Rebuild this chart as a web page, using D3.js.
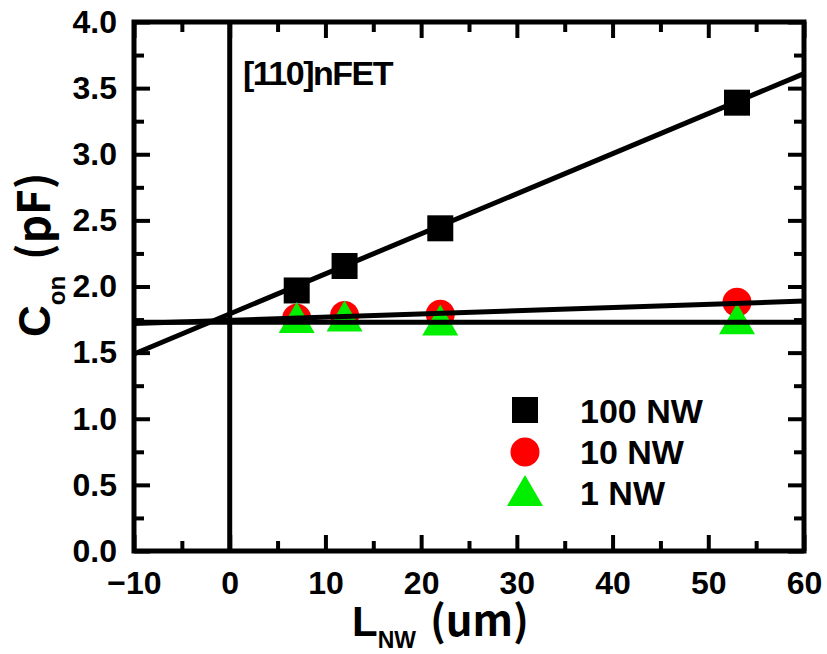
<!DOCTYPE html>
<html>
<head>
<meta charset="utf-8">
<script src="https://cdn.jsdelivr.net/npm/d3@7"></script>
<style>
  body { margin: 0; background: #fff; }
  svg { display: block; }
</style>
</head>
<body>
<svg id="viz" width="827" height="654"></svg>
<script>
var width = 827, height = 654

// measured points
var lengths = [7, 12, 22, 53]
var nw100 = [1.97, 2.155, 2.44, 3.39]
var nw10 = [1.76, 1.78, 1.79, 1.88]
var nw1 = [1.74, 1.75, 1.72, 1.73]

// fitted lines, end points at the axis limits
var fitX = [-10, 60]
var fit100 = [1.49, 3.61]
var fit10 = [1.72, 1.89]
var fit1 = [1.73, 1.73]

var xMajor = [-10, 0, 10, 20, 30, 40, 50, 60]
var xMinor = [-5, 5, 15, 25, 35, 45, 55]
var yMajor = [0, 0.5, 1, 1.5, 2, 2.5, 3, 3.5, 4]
var yMinor = [0.25, 0.75, 1.25, 1.75, 2.25, 2.75, 3.25, 3.75]

var legendLabels = ['100 NW', '10 NW', '1 NW']

var pLeft = 134, pRight = 804, pTop = 22, pBottom = 551

var x = d3.scaleLinear().domain([-10, 60]).range([pLeft, pRight])
var y = d3.scaleLinear().domain([0, 4]).range([pBottom, pTop])

var svg = d3.select('svg#viz')
var tickFont = '"Liberation Sans", Arial, sans-serif'

function drawAxis(axis, tx, ty, labels) {
  var g = svg.append('g').attr('transform', 'translate(' + tx + ',' + ty + ')').call(axis)
  g.select('.domain').remove()
  g.selectAll('.tick line').attr('stroke', '#000').attr('stroke-width', 4)
  if (!labels) g.selectAll('.tick text').remove()
  else g.selectAll('.tick text')
    .style('font-family', tickFont).style('font-size', '32px').style('font-weight', 'bold')
    .attr('fill', '#000')
  return g
}

// bottom
drawAxis(d3.axisBottom(x).tickValues(xMajor).tickSize(-16).tickPadding(20)
  .tickFormat(function(d) { return d < 0 ? '\u2212' + Math.abs(d) : d }), 0, pBottom, true)
drawAxis(d3.axisBottom(x).tickValues(xMinor).tickSize(-10), 0, pBottom, false)
// top
drawAxis(d3.axisTop(x).tickValues(xMajor).tickSize(-16), 0, pTop, false)
drawAxis(d3.axisTop(x).tickValues(xMinor).tickSize(-10), 0, pTop, false)
// left
drawAxis(d3.axisLeft(y).tickValues(yMajor).tickSize(-16).tickPadding(17)
  .tickFormat(d3.format('.1f')), pLeft, 0, true)
drawAxis(d3.axisLeft(y).tickValues(yMinor).tickSize(-10), pLeft, 0, false)
// right
drawAxis(d3.axisRight(y).tickValues(yMajor).tickSize(-16), pRight, 0, false)
drawAxis(d3.axisRight(y).tickValues(yMinor).tickSize(-10), pRight, 0, false)

// markers
function tri(s) {
  return 'M0,' + (-19 * s) + 'L' + (18 * s) + ',' + (12 * s) + 'L' + (-18 * s) + ',' + (12 * s) + 'Z'
}

var marks = svg.append('g')
marks.selectAll('rect.sq').data(lengths).enter().append('rect')
  .attr('class', 'sq')
  .attr('x', function(d) { return x(d) - 13 })
  .attr('y', function(d, i) { return y(nw100[i]) - 13 })
  .attr('width', 26).attr('height', 26).attr('fill', '#000')

marks.selectAll('circle').data(lengths).enter().append('circle')
  .attr('cx', function(d) { return x(d) })
  .attr('cy', function(d, i) { return y(nw10[i]) })
  .attr('r', 14.5).attr('fill', '#ff0000')

marks.selectAll('path.tri').data(lengths).enter().append('path')
  .attr('class', 'tri')
  .attr('d', tri(1))
  .attr('transform', function(d, i) { return 'translate(' + x(d) + ',' + y(nw1[i]) + ')' })
  .attr('fill', '#00ee00')

// lines
var line = d3.line().x(function(d) { return x(d[0]) }).y(function(d) { return y(d[1]) })
;[fit100, fit10, fit1].forEach(function(f) {
  svg.append('path').datum(fitX.map(function(v, i) { return [v, f[i]] }))
    .attr('d', line).attr('fill', 'none').attr('stroke', '#000').attr('stroke-width', 5)
})
svg.append('line')
  .attr('x1', x(0)).attr('x2', x(0)).attr('y1', y(0)).attr('y2', y(4))
  .attr('stroke', '#000').attr('stroke-width', 5)

// frame
svg.append('rect').attr('x', pLeft).attr('y', pTop)
  .attr('width', pRight - pLeft).attr('height', pBottom - pTop)
  .attr('fill', 'none').attr('stroke', '#000').attr('stroke-width', 5)

// annotation
svg.append('text').attr('x', 243).attr('y', 85)
  .style('font-family', tickFont).style('font-size', '34px').style('font-weight', 'bold')
  .style('letter-spacing', '-1.5px')
  .text('[110]nFET')

// legend
var lg = svg.append('g')
lg.append('rect').attr('x', 512).attr('y', 397).attr('width', 26).attr('height', 26).attr('fill', '#000')
lg.append('circle').attr('cx', 525).attr('cy', 452).attr('r', 14.5).attr('fill', '#ff0000')
lg.append('path').attr('d', tri(1)).attr('transform', 'translate(525,494)').attr('fill', '#00ee00')
lg.selectAll('text').data(legendLabels).enter().append('text')
  .attr('x', 580)
  .attr('y', function(d, i) { return [423, 464, 505][i] })
  .style('font-family', tickFont).style('font-size', '34px')
  .style('font-weight', 'bold')
  .text(function(d) { return d })

// axis titles
var titleFont = '"Liberation Sans", Arial, sans-serif'
var xt = svg.append('text').attr('x', 352).attr('y', 636)
  .style('font-family', titleFont).style('font-weight', 'bold').style('font-size', '42px')
xt.append('tspan').text('L')
xt.append('tspan').attr('dy', 12).style('font-size', '23px').text('NW')
xt.append('tspan').attr('dy', -12).attr('dx', 14)
  .style('font-family', '"Noto Sans CJK JP"').style('font-weight', 'bold').text('(um)')

var yt = svg.append('text').attr('transform', 'translate(50,337) rotate(-90)')
  .style('font-family', titleFont).style('font-weight', 'bold').style('font-size', '44px')
yt.append('tspan').text('C')
yt.append('tspan').attr('dy', 15).style('font-size', '24px').text('on')
yt.append('tspan').attr('dy', -15).attr('dx', 16)
  .style('font-family', '"Noto Sans CJK JP"').style('font-weight', 'bold').text('(pF)')
</script>
</body>
</html>
